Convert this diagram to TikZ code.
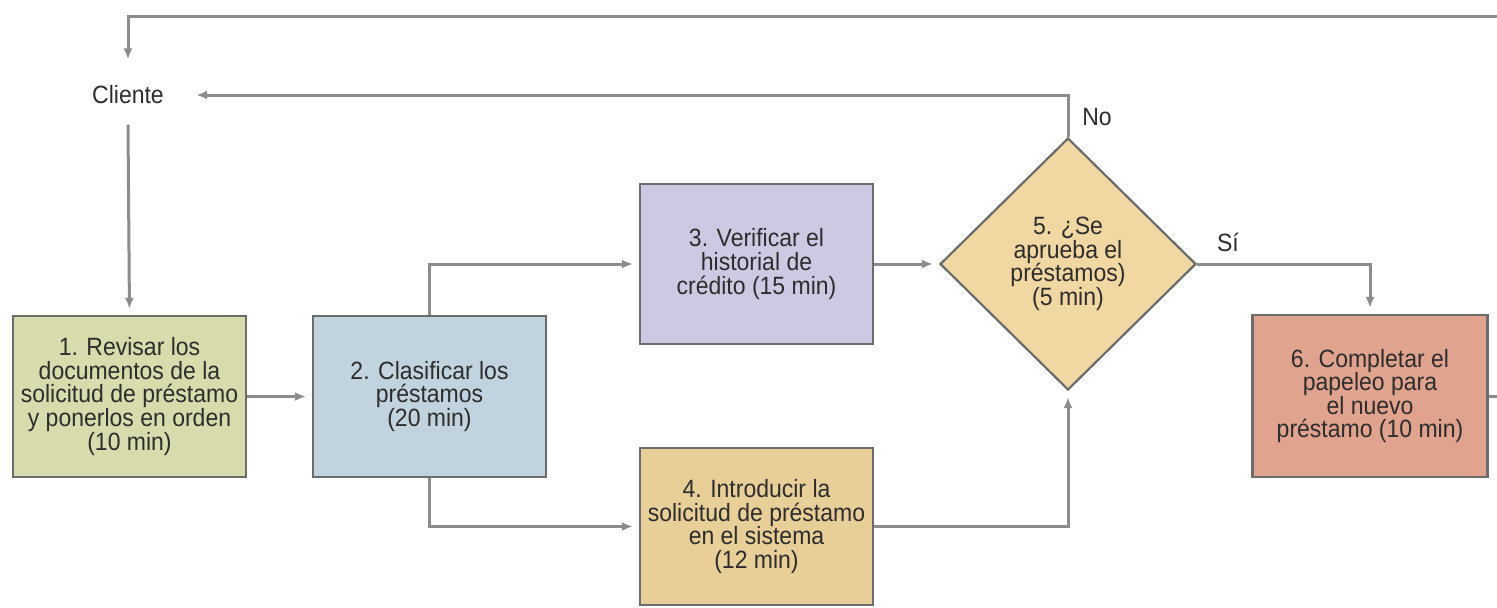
\documentclass[tikz,border=0pt]{standalone}
\usepackage{fontspec}
\setmainfont{Liberation Sans}[FakeStretch=0.92]
\usetikzlibrary{shapes.geometric,arrows.meta}
\definecolor{linegray}{RGB}{140,140,140}
\definecolor{bordergray}{RGB}{108,108,108}
\definecolor{txt}{RGB}{45,45,45}
\definecolor{c1}{RGB}{216,219,172}
\definecolor{c2}{RGB}{192,211,222}
\definecolor{c3}{RGB}{206,201,227}
\definecolor{c4}{RGB}{232,207,152}
\definecolor{c5}{RGB}{241,215,162}
\definecolor{c6}{RGB}{223,163,142}
\tikzset{
  procbox/.style={draw=bordergray, line width=1.1pt, inner sep=0pt, align=center,
    text=txt, font=\fontsize{12.5}{11.8}\selectfont, minimum width=116.5pt},
  decision/.style={diamond, draw=bordergray, line width=1.1pt, inner sep=0pt, align=center,
    text=txt, font=\fontsize{12.5}{11.8}\selectfont, minimum width=128pt, minimum height=126pt, fill=c5},
  lbl/.style={text=txt, font=\fontsize{12.5}{12}\selectfont, inner sep=1pt},
  conn/.style={draw=linegray, line width=1.5pt},
  arr/.style={conn, -{Latex[length=5.5pt,width=4.5pt]}, shorten >=3pt},
}
\begin{document}
\begin{tikzpicture}[x=0.5pt,y=-0.5pt]
\useasboundingbox (0,0) rectangle (1497,607);
\fill[white] (0,0) rectangle (1497,607);
% nodes
\node[procbox, fill=c1, minimum height=80.5pt] (b1) at (129.5,396.5)
  {1. Revisar los\\documentos de la\\solicitud de préstamo\\y ponerlos en orden\\(10 min)};
\node[procbox, fill=c2, minimum height=80.5pt] (b2) at (429.5,396.5)
  {2. Clasificar los\\préstamos\\(20 min)};
\node[procbox, fill=c3, minimum height=80pt] (b3) at (756.5,264)
  {3. Verificar el\\historial de\\crédito (15 min)};
\node[procbox, fill=c4, minimum height=78.5pt] (b4) at (756.5,526.5)
  {4. Introducir la\\solicitud de préstamo\\en el sistema\\(12 min)};
\node[decision] (d5) at (1068,264)
  {5. ¿Se\\aprueba el\\préstamos)\\(5 min)};
\node[procbox, fill=c6, minimum width=117.5pt, minimum height=81pt] (b6) at (1370,396)
  {6. Completar el\\papeleo para\\el nuevo\\préstamo (10 min)};
\node[lbl, inner xsep=13pt, inner ysep=10pt] (cli) at (128,95) {Cliente};
\node[lbl] (no) at (1097,117) {No};
\node[lbl] (si) at (1228,242) {Sí};
\coordinate (topR) at (1497,16);
\coordinate (outR) at (1497,396);
% connectors
\draw[arr] (topR) -| (cli.north);
\draw[arr] (d5.north) |- (cli.east);
\draw[arr] (cli.south) -- (b1.north);
\draw[arr] (b1.east) -- (b2.west);
\draw[arr] (b2.north) |- (b3.west);
\draw[arr] (b2.south) |- (b4.west);
\draw[arr] (b3.east) -- (d5.west);
\draw[arr] (b4.east) -| (d5.south);
\draw[arr] (d5.east) -| (b6.north);
\draw[conn] (b6.east) -- (outR);
\end{tikzpicture}
\end{document}
